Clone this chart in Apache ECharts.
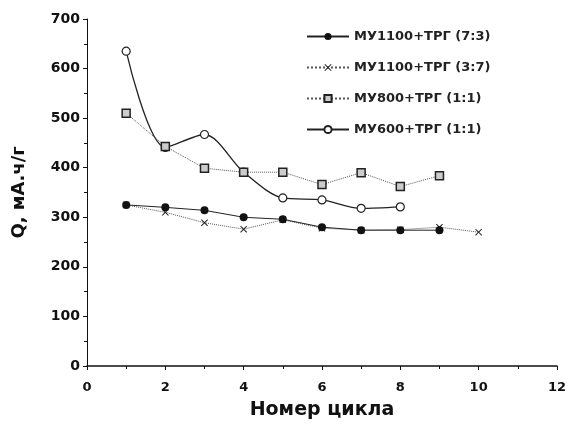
<!DOCTYPE html>
<html>
<head>
<meta charset="utf-8">
<script src="https://cdn.jsdelivr.net/npm/echarts@6/dist/echarts.min.js"></script>
<style>
  html, body { margin: 0; padding: 0; background: #fff; }
  #chart { width: 569px; height: 427px; }
</style>
</head>
<body>
<div id="chart"></div>
<script>
// номера циклов
const CYCLES_A = [1, 2, 3, 4, 5, 6, 7, 8, 9];
const CYCLES_B = [1, 2, 3, 4, 5, 6, 7, 8, 9, 10];
const CYCLES_C = [1, 2, 3, 4, 5, 6, 7, 8, 9];
const CYCLES_D = [1, 2, 3, 4, 5, 6, 7, 8];

// ёмкость, мА.ч/г
const MU1100_73 = [325, 320, 314, 300, 296, 280, 274, 274, 274];
const MU1100_37 = [325, 310, 289, 276, 295, 278, 274, 275, 280, 270];
const MU800_11 = [510, 443, 399, 391, 391, 366, 390, 362, 384];
const MU600_11 = [635, 441, 467, 391, 339, 335, 318, 321];

const NAMES = ['МУ1100+ТРГ (7:3)', 'МУ1100+ТРГ (3:7)', 'МУ800+ТРГ (1:1)', 'МУ600+ТРГ (1:1)'];

const X_TICKS = [0, 2, 4, 6, 8, 10, 12];
const Y_TICKS = [0, 100, 200, 300, 400, 500, 600, 700];

const FONT = '"DejaVu Sans", "Liberation Sans", Arial, sans-serif';
const CROSS = 'path://M0,1L1,0L5,4L9,0L10,1L6,5L10,9L9,10L5,6L1,10L0,9L4,5Z';

function pairs(xs, ys) {
  return xs.map((x, i) => [x, ys[i]]);
}

const chart = echarts.init(document.getElementById('chart'));

chart.setOption({
  animation: false,
  backgroundColor: '#fff',
  grid: { left: 87, right: 10, top: 19, bottom: 61 },
  legend: {
    orient: 'vertical',
    left: 301,
    top: 25,
    itemWidth: 42,
    itemHeight: 9,
    itemGap: 18,
    textStyle: { fontFamily: FONT, fontSize: 13, fontWeight: 'bold', color: '#222' },
    data: NAMES
  },
  xAxis: {
    type: 'value',
    min: X_TICKS[0],
    max: X_TICKS[X_TICKS.length - 1],
    interval: 2,
    name: 'Номер цикла',
    nameLocation: 'middle',
    nameGap: 35,
    nameTextStyle: { fontFamily: FONT, fontSize: 19, fontWeight: 'bold', color: '#111' },
    axisLine: { lineStyle: { color: '#111', width: 1.5 } },
    axisTick: { show: true, inside: false, length: 4, lineStyle: { color: '#111' } },
    minorTick: { show: true, splitNumber: 2, length: 3, lineStyle: { color: '#111' } },
    axisLabel: { fontFamily: FONT, fontSize: 13, fontWeight: 'bold', color: '#111', margin: 15 },
    splitLine: { show: false }
  },
  yAxis: {
    type: 'value',
    min: Y_TICKS[0],
    max: Y_TICKS[Y_TICKS.length - 1],
    interval: 100,
    name: 'Q, мА.ч/г',
    nameLocation: 'middle',
    nameGap: 59,
    nameTextStyle: { fontFamily: FONT, fontSize: 18, fontWeight: 'bold', color: '#111' },
    axisLine: { show: true, lineStyle: { color: '#111', width: 1 } },
    axisTick: { show: true, inside: false, length: 4, lineStyle: { color: '#111' } },
    minorTick: { show: true, splitNumber: 2, length: 3, lineStyle: { color: '#111' } },
    axisLabel: { fontFamily: FONT, fontSize: 14, fontWeight: 'bold', color: '#111', margin: 7 },
    splitLine: { show: false }
  },
  series: [
    {
      name: NAMES[0],
      type: 'line',
      data: pairs(CYCLES_A, MU1100_73),
      symbol: 'circle',
      symbolSize: 8,
      itemStyle: { color: '#111' },
      lineStyle: { color: '#222', width: 1, type: 'solid' },
      z: 4
    },
    {
      name: NAMES[1],
      type: 'line',
      data: pairs(CYCLES_B, MU1100_37),
      symbol: CROSS,
      symbolSize: 7,
      itemStyle: { color: '#222' },
      lineStyle: { color: '#555', width: 1, type: 'dotted' },
      z: 3
    },
    {
      name: NAMES[2],
      type: 'line',
      data: pairs(CYCLES_C, MU800_11),
      symbol: 'rect',
      symbolSize: 8,
      itemStyle: { color: '#ccc', borderColor: '#222', borderWidth: 1.5 },
      lineStyle: { color: '#555', width: 1, type: 'dotted' },
      z: 3
    },
    {
      name: NAMES[3],
      type: 'line',
      data: pairs(CYCLES_D, MU600_11),
      smooth: 0.3,
      symbol: 'circle',
      symbolSize: 8,
      itemStyle: { color: '#fff', borderColor: '#222', borderWidth: 1.2 },
      lineStyle: { color: '#222', width: 1.3, type: 'solid' },
      z: 2
    }
  ]
});
</script>
</body>
</html>
